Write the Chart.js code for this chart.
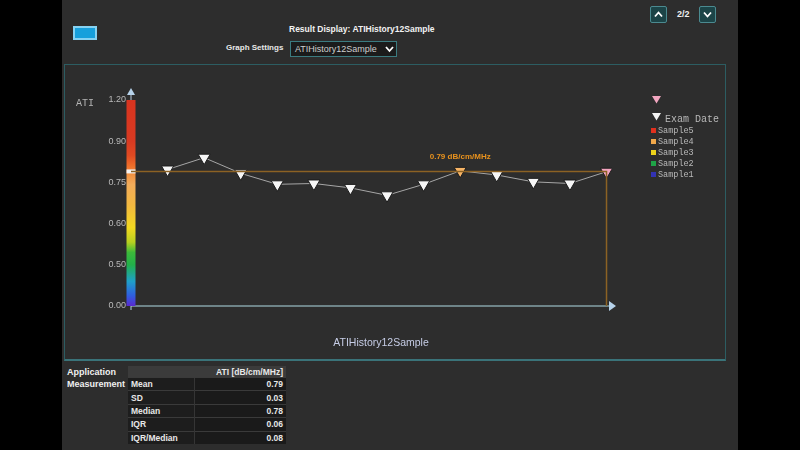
<!DOCTYPE html>
<html>
<head>
<meta charset="utf-8">
<script src="https://cdn.jsdelivr.net/npm/chart.js@4.4.1/dist/chart.umd.min.js"></script>
<style>
  html, body { margin: 0; padding: 0; background: #000; }
  body { width: 800px; height: 450px; position: relative; overflow: hidden; font-family: "Liberation Sans", Arial, sans-serif; }
  .panel { position: absolute; left: 62px; top: 0; width: 676px; height: 450px; background: #2d2d2d; }
  .abs { position: absolute; white-space: nowrap; }
  .frame { position: absolute; left: 64px; top: 64px; width: 660px; height: 294px; border: 1px solid #2c5d62; border-bottom: 2px solid #3a7379; }
  #chart { position: absolute; left: 64px; top: 64px; }
  .blue-btn { left: 73px; top: 26px; width: 20px; height: 10px; background: #17a0dc; border: 2px solid #86d2f2; }
  .nav-btn { width: 15px; height: 15px; background: #1c4447; border: 1px solid #4b8a90; border-radius: 2px; }
  .title { left: 289px; top: 24px; font-size: 8.5px; font-weight: bold; color: #f2f2f2; }
  .gs-label { left: 226px; top: 43px; font-size: 8px; font-weight: bold; color: #e8e8e8; }
  .dropdown { left: 290px; top: 41px; width: 105px; height: 14px; background: #1b1b1b; border: 1px solid #3b7b80; }
  .dropdown span { position: absolute; left: 4px; top: 2px; font-size: 9px; color: #cfcfcf; }
  .pager { left: 677px; top: 9px; font-size: 9px; font-weight: bold; color: #f0f0f0; }
  .ylab { left: 76px; top: 98px; font-family: "Liberation Mono", "DejaVu Sans Mono", monospace; font-size: 10px; color: #b4b4b4; }
  .xlab { left: 381px; top: 336px; transform: translateX(-50%); font-size: 10.5px; color: #c6cde6; }
  .legend { font-family: "Liberation Mono", "DejaVu Sans Mono", monospace; color: #b8b8b8; }
  .leg-row { position: absolute; left: 651px; height: 11px; font-size: 8.5px; line-height: 11px; }
  .leg-row i { display: inline-block; width: 5px; height: 5px; margin-right: 2px; vertical-align: 0px; }
  .app { left: 67px; top: 366px; font-size: 9px; font-weight: bold; color: #f0f0f0; line-height: 12px; }
  table { position: absolute; left: 128px; top: 366px; width: 158px; border-collapse: collapse; font-size: 8.5px; font-weight: bold; color: #e8e8e8; }
  th { background: #3b3b3b; height: 11px; padding: 0 3px; text-align: right; font-weight: bold; }
  td { background: #1d1d1d; height: 12.4px; padding: 0 3px; border-top: 1px solid #3a3a3a; }
  td.v { text-align: right; background: #1a1a1a; border-left: 1px solid #353535; }
</style>
</head>
<body>
<div class="panel"></div>
<div class="abs blue-btn"></div>
<div class="abs title">Result Display: ATIHistory12Sample</div>
<div class="abs gs-label">Graph Settings</div>
<div class="abs dropdown"><span>ATIHistory12Sample</span>
  <svg class="abs" style="left:94px;top:4px" width="9" height="7"><polyline points="1,1 4.5,5 8,1" fill="none" stroke="#fff" stroke-width="1.8"/></svg>
</div>
<div class="abs nav-btn" style="left:650px;top:6px">
  <svg width="15" height="15"><polyline points="4,9.5 7.5,5.5 11,9.5" fill="none" stroke="#fff" stroke-width="1.8"/></svg>
</div>
<div class="abs pager">2/2</div>
<div class="abs nav-btn" style="left:699px;top:6px">
  <svg width="15" height="15"><polyline points="4,5.5 7.5,9.5 11,5.5" fill="none" stroke="#fff" stroke-width="1.8"/></svg>
</div>

<div class="frame"></div>
<canvas id="chart" width="662" height="296"></canvas>
<div class="abs ylab">ATI</div>
<div class="abs xlab">ATIHistory12Sample</div>

<div class="legend">
  <svg class="abs" style="left:652px;top:96px" width="9" height="8"><polygon points="0,0 9,0 4.5,7.5" fill="#f2a6c0"/></svg>
  <svg class="abs" style="left:652px;top:113px" width="9" height="8"><polygon points="0,0 9,0 4.5,7.5" fill="#f4f4f4"/></svg>
  <div class="abs" style="left:665px;top:114px;font-size:10px">Exam Date</div>
  <div id="sample-legend"></div>
</div>

<div class="abs app">Application<br>Measurement</div>
<table id="stats">
  <thead><tr><th></th><th>ATI [dB/cm/MHz]</th></tr></thead>
  <tbody></tbody>
</table>

<script>
// exam sequence (x) and ATI values in dB/cm/MHz
const sampleIndex = [1, 2, 3, 4, 5, 6, 7, 8, 9, 10, 11, 12, 13];
const atiValues = [0.797, 0.840, 0.783, 0.743, 0.746, 0.730, 0.703, 0.743, 0.792, 0.777, 0.752, 0.746, 0.789];
const currentValue = 0.79;
const highlightIdx = 8;

// y axis is not linear, ticks are spaced evenly
const yTicks = [0.00, 0.50, 0.60, 0.75, 0.90, 1.20];

const legendSamples = ['Sample5', 'Sample4', 'Sample3', 'Sample2', 'Sample1'];
const sampleColors = ['#e0301e', '#f0a84a', '#ecd21c', '#1fa447', '#3232b4'];

const statNames = ['Mean', 'SD', 'Median', 'IQR', 'IQR/Median'];
const statValues = [0.79, 0.03, 0.78, 0.06, 0.08];

// legend + table
const legendBox = document.getElementById('sample-legend');
legendSamples.forEach((name, i) => {
    const row = document.createElement('div');
    row.className = 'leg-row';
    row.style.top = (126 + i * 11) + 'px';
    row.innerHTML = `<i style="background:${sampleColors[i]}"></i>${name}`;
    legendBox.appendChild(row);
});
const tbody = document.querySelector('#stats tbody');
statNames.forEach((name, i) => {
    const tr = document.createElement('tr');
    tr.innerHTML = `<td>${name}</td><td class="v">${statValues[i].toFixed(2)}</td>`;
    tbody.appendChild(tr);
});

// piecewise scale: each tick interval gets the same height
class StepScale extends Chart.LinearScale {
    buildTicks() {
        return yTicks.map(v => ({ value: v }));
    }
    getPixelForValue(v) {
        if (v === null || v === undefined) return NaN;
        const n = yTicks.length - 1;
        let i = 0;
        while (i < n - 1 && v > yTicks[i + 1]) i++;
        const f = i + (v - yTicks[i]) / (yTicks[i + 1] - yTicks[i]);
        return this.getPixelForDecimal(f / n);
    }
    getValueForPixel(p) {
        const n = yTicks.length - 1;
        const f = Math.min(Math.max(this.getDecimalForPixel(p) * n, 0), n);
        const i = Math.min(Math.floor(f), n - 1);
        return yTicks[i] + (f - i) * (yTicks[i + 1] - yTicks[i]);
    }
}
StepScale.id = 'step';
StepScale.defaults = Chart.LinearScale.defaults;
Chart.register(StepScale);

const lastIdx = atiValues.length - 1;
const lastX = sampleIndex[lastIdx];

const axisDecor = {
    id: 'axisDecor',
    beforeDatasetsDraw(chart) {
        const { ctx, chartArea: a, scales: { x, y } } = chart;
        const x0 = x.getPixelForValue(0);
        const yTop = y.getPixelForValue(yTicks[yTicks.length - 1]);
        const yBot = y.getPixelForValue(yTicks[0]);
        ctx.save();

        // x axis with arrow
        ctx.strokeStyle = '#6e8488';
        ctx.lineWidth = 2;
        ctx.beginPath();
        ctx.moveTo(x0, yBot);
        ctx.lineTo(a.right, yBot);
        ctx.stroke();
        ctx.fillStyle = '#b6d2ea';
        ctx.beginPath();
        ctx.moveTo(a.right + 4, yBot);
        ctx.lineTo(a.right - 3, yBot - 5);
        ctx.lineTo(a.right - 3, yBot + 5);
        ctx.closePath();
        ctx.fill();
        ctx.fillRect(x0 - 0.5, yBot, 1, 4);

        // y axis arrow above the colour bar
        ctx.strokeStyle = '#b6c8dc';
        ctx.lineWidth = 1;
        ctx.beginPath();
        ctx.moveTo(x0, yTop);
        ctx.lineTo(x0, yTop - 6);
        ctx.stroke();
        ctx.beginPath();
        ctx.moveTo(x0, yTop - 12);
        ctx.lineTo(x0 - 4, yTop - 5);
        ctx.lineTo(x0 + 4, yTop - 5);
        ctx.closePath();
        ctx.fill();

        // colour bar
        const g = ctx.createLinearGradient(0, yBot, 0, yTop);
        g.addColorStop(0.00, '#5a2ad0');
        g.addColorStop(0.05, '#2f5ee0');
        g.addColorStop(0.12, '#1fa0c8');
        g.addColorStop(0.20, '#22b04a');
        g.addColorStop(0.26, '#3cba3a');
        g.addColorStop(0.31, '#b8d020');
        g.addColorStop(0.38, '#f2d820');
        g.addColorStop(0.49, '#f2b840');
        g.addColorStop(0.59, '#f2ac5a');
        g.addColorStop(0.64, '#f09040');
        g.addColorStop(0.68, '#ee6e2a');
        g.addColorStop(0.73, '#e04a22');
        g.addColorStop(0.80, '#d83a22');
        g.addColorStop(1.00, '#d8341f');
        ctx.fillStyle = g;
        ctx.fillRect(x0 - 4.5, yTop, 9, yBot - yTop);

        // marker for current value
        const ym = y.getPixelForValue(currentValue);
        ctx.fillStyle = '#f2f2f2';
        ctx.fillRect(x0 - 4.5, ym - 2, 9, 4);
        ctx.restore();
    },
    afterDatasetsDraw(chart) {
        const { ctx } = chart;
        const pt = chart.getDatasetMeta(1).data[highlightIdx];
        ctx.save();
        ctx.font = 'bold 8px "Liberation Sans", Arial, sans-serif';
        ctx.fillStyle = '#e8921e';
        ctx.textAlign = 'center';
        ctx.textBaseline = 'middle';
        ctx.fillText(`${currentValue.toFixed(2)} dB/cm/MHz`, pt.x, pt.y - 14);
        ctx.restore();
    }
};

new Chart(document.getElementById('chart'), {
    type: 'line',
    data: {
        datasets: [
            {
                label: 'Current',
                data: [{ x: 0, y: currentValue }, { x: lastX, y: currentValue }, { x: lastX, y: 0 }],
                borderColor: '#8c6224',
                borderWidth: 1.5,
                pointRadius: 0,
                order: 0
            },
            {
                label: 'Exam Date',
                data: sampleIndex.map((x, i) => ({ x: x, y: atiValues[i] })),
                borderColor: '#a6a6a6',
                borderWidth: 1,
                pointStyle: 'triangle',
                rotation: 180,
                pointRadius: 7,
                pointBorderWidth: 1,
                pointBorderColor: '#1c1c1c',
                pointBackgroundColor: atiValues.map((v, i) =>
                    i === lastIdx ? '#f3a4bf' : i === highlightIdx ? '#f6b466' : '#f6f6f6'),
                order: 1
            }
        ]
    },
    options: {
        responsive: false,
        animation: false,
        layout: { padding: { left: 0, top: 36, right: 114, bottom: 54 } },
        scales: {
            x: { type: 'linear', min: 0, max: 13.15, display: false },
            y: {
                type: 'step',
                min: 0,
                max: 1.2,
                grid: { display: false, drawTicks: false },
                border: { display: false },
                ticks: {
                    color: '#bababa',
                    padding: 5,
                    font: { family: '"Liberation Sans", Arial, sans-serif', size: 9 },
                    callback: v => Number(v).toFixed(2)
                },
                afterFit: scale => { scale.width = 67; }
            }
        },
        plugins: {
            legend: { display: false },
            tooltip: { enabled: false }
        }
    },
    plugins: [axisDecor]
});
</script>
</body>
</html>
